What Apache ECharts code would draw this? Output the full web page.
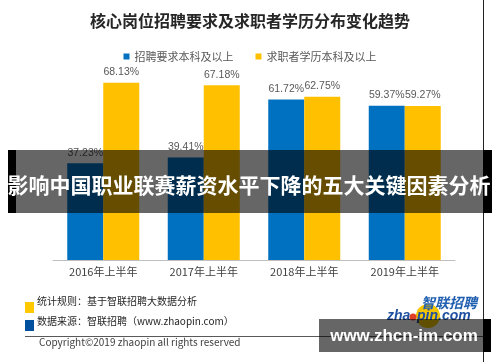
<!DOCTYPE html>
<html>
<head>
<meta charset="utf-8">
<script src="https://cdn.jsdelivr.net/npm/echarts@6/dist/echarts.min.js"></script>
<style>html,body{margin:0;padding:0;background:#fff}#c{width:500px;height:362px}</style>
</head>
<body>
<div id="c"></div>
<script>
const categories = ['2016年上半年', '2017年上半年', '2018年上半年', '2019年上半年'];
const requireValues = [37.23, 39.41, 61.72, 59.37];
const seekerValues = [68.13, 67.18, 62.75, 59.27];
const seriesNames = ['招聘要求本科及以上', '求职者学历本科及以上'];

const FONT = '"Noto Sans CJK SC", "Noto Sans", sans-serif';
const chart = echarts.init(document.getElementById('c'));
const barLabel = {
  show: true, position: 'top', distance: 5, formatter: p => p.value.toFixed(2) + '%',
  fontFamily: '"Liberation Sans", sans-serif', fontSize: 10.5, color: '#595959'
};
chart.setOption({
  animation: false,
  backgroundColor: '#fff',
  title: {
    text: '核心岗位招聘要求及求职者学历分布变化趋势',
    left: 'center', top: 8,
    textStyle: { fontFamily: FONT, fontSize: 16, fontWeight: 'bold', color: '#262626' }
  },
  legend: {
    top: 46, left: 'center',
    icon: 'rect', itemWidth: 6, itemHeight: 6, itemGap: 22,
    textStyle: { fontFamily: FONT, fontSize: 11, color: '#595959' },
    data: seriesNames
  },
  grid: { left: 53, right: 45, top: 0, bottom: 102 },
  xAxis: {
    type: 'category', data: categories,
    axisTick: { show: false },
    axisLine: { lineStyle: { color: '#bfbfbf', width: 1 } },
    axisLabel: { fontFamily: FONT, fontSize: 11, color: '#404040', margin: 6 }
  },
  yAxis: { type: 'value', min: 0, max: 100, show: false, splitLine: { show: false } },
  series: [
    {
      name: seriesNames[0], type: 'bar', data: requireValues, barWidth: 36, barGap: '0%',
      itemStyle: { color: '#0070C0' }, label: barLabel
    },
    {
      name: seriesNames[1], type: 'bar', data: seekerValues, barWidth: 36,
      itemStyle: { color: '#FFC000' }, label: barLabel
    }
  ],
  graphic: [
    { type: 'line', shape: { x1: 483.5, y1: 0, x2: 483.5, y2: 362 }, style: { stroke: '#222', lineWidth: 1 }, z: 10 },
    { type: 'rect', shape: { x: 25, y: 302, width: 9, height: 11 }, style: { fill: '#FFC800' }, z: 10 },
    { type: 'text', left: 37, top: 296, style: { text: '统计规则：基于智联招聘大数据分析', font: '10px ' + FONT, fill: '#262626' }, z: 10 },
    { type: 'rect', shape: { x: 25, y: 320, width: 9, height: 11 }, style: { fill: '#0050A0' }, z: 10 },
    { type: 'text', left: 37, top: 316, style: { text: '数据来源：智联招聘（www.zhaopin.com）', font: '10px ' + FONT, fill: '#262626' }, z: 10 },
    { type: 'line', shape: { x1: 25, y1: 336.5, x2: 483, y2: 336.5 }, style: { stroke: '#595959', lineWidth: 1 }, z: 10 },
    { type: 'text', left: 39, top: 337, style: { text: 'Copyright©2019 zhaopin all rights reserved', font: '10px ' + FONT, fill: '#404040' }, z: 10 },
    { type: 'circle', shape: { cx: 428, cy: 316, r: 12 }, style: { fill: '#F2C500' }, z: 10 },
    { type: 'text', left: 421, top: 296, style: { text: '智联招聘', font: 'italic bold 14px ' + FONT, fill: '#1F5FB0' }, z: 11 },
    { type: 'text', left: 387, top: 309, style: { text: 'zha', font: 'italic bold 14px "Liberation Sans", sans-serif', fill: '#1F4FA0' }, z: 11 },
    { type: 'circle', shape: { cx: 413, cy: 317, r: 3.5 }, style: { fill: '#E0402A' }, z: 11 },
    { type: 'text', left: 417, top: 309, style: { text: 'pin.com', font: 'italic bold 14px "Liberation Sans", sans-serif', fill: '#1F4FA0' }, z: 11 },
    { type: 'rect', shape: { x: 319, y: 319, width: 164, height: 33 }, style: { fill: 'rgba(0,0,0,0.6)' }, z: 20 },
    { type: 'rect', shape: { x: 483, y: 319, width: 8, height: 33 }, style: { fill: '#000' }, z: 20 },
    { type: 'text', x: 404, y: 336, style: { text: 'www.zhcn-im.com', font: 'bold 17px "Liberation Sans", sans-serif', fill: '#fff', align: 'center', verticalAlign: 'middle' }, z: 21 },
    { type: 'rect', shape: { x: 16, y: 150, width: 467, height: 63 }, style: { fill: 'rgba(0,0,0,0.6)' }, z: 20 },
    { type: 'rect', shape: { x: 8, y: 150, width: 8, height: 63 }, style: { fill: '#000' }, z: 20 },
    { type: 'rect', shape: { x: 483, y: 150, width: 9, height: 63 }, style: { fill: '#000' }, z: 20 },
    { type: 'text', x: 249, y: 185, style: { text: '影响中国职业联赛薪资水平下降的五大关键因素分析', font: 'bold 21px ' + FONT, fill: '#fff', align: 'center', verticalAlign: 'middle' }, z: 21 }
  ]
});
</script>
</body>
</html>
